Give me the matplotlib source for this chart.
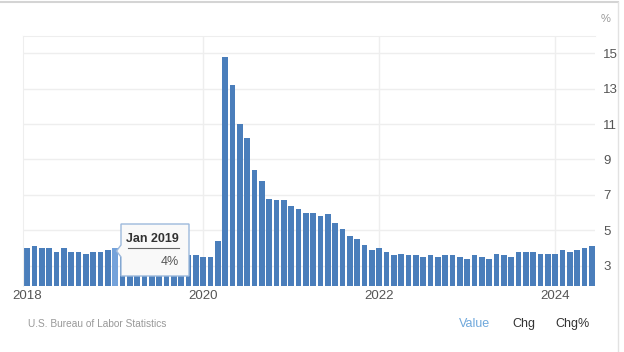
import matplotlib
matplotlib.use('Agg')
import matplotlib.pyplot as plt
from matplotlib.patches import Polygon
from matplotlib.lines import Line2D

plt.rcParams['font.family'] = ['Liberation Sans', 'DejaVu Sans']

# monthly unemployment rate, Jan 2018 - Jun 2024 (%)
rate_2018 = [4.0, 4.1, 4.0, 4.0, 3.8, 4.0, 3.8, 3.8, 3.7, 3.8, 3.8, 3.9]
rate_2019 = [4.0, 3.8, 3.8, 3.7, 3.6, 3.6, 3.7, 3.6, 3.5, 3.6, 3.6, 3.6]
rate_2020 = [3.5, 3.5, 4.4, 14.8, 13.2, 11.0, 10.2, 8.4, 7.8, 6.8, 6.7, 6.7]
rate_2021 = [6.4, 6.2, 6.0, 6.0, 5.8, 5.9, 5.4, 5.1, 4.7, 4.5, 4.2, 3.9]
rate_2022 = [4.0, 3.8, 3.6, 3.7, 3.6, 3.6, 3.5, 3.6, 3.5, 3.6, 3.6, 3.5]
rate_2023 = [3.4, 3.6, 3.5, 3.4, 3.7, 3.6, 3.5, 3.8, 3.8, 3.8, 3.7, 3.7]
rate_2024 = [3.7, 3.9, 3.8, 3.9, 4.0, 4.1]

year_labels = ['2018', '2020', '2022', '2024']
year_ticks = [0, 24, 48, 72]
y_ticks = [3, 5, 7, 9, 11, 13, 15]
highlight = 12  # Jan 2019

rates = rate_2018 + rate_2019 + rate_2020 + rate_2021 + rate_2022 + rate_2023 + rate_2024
months = list(range(len(rates)))

W, H = 624, 352
fig = plt.figure(figsize=(W / 100, H / 100), dpi=100)

def fx(px):
    return px / W

def fy(py):
    return 1 - py / H

ax = fig.add_axes([fx(23), fy(286), fx(595) - fx(23), fy(36) - fy(286)])

colors = ['#4a7ebb'] * len(rates)
colors[highlight] = '#74a2da'
ax.bar(months, rates, width=0.78, color=colors, zorder=2)

ax.set_xlim(-0.57, len(rates) - 0.57)
ax.set_ylim(1.87, 15.96)

ax.set_xticks(year_ticks)
ax.set_xticklabels(year_labels)
ax.set_yticks(y_ticks)
ax.yaxis.tick_right()
ax.tick_params(axis='x', length=0, pad=3, labelsize=9.5, labelcolor='#555555')
ax.tick_params(axis='y', length=0, pad=6, labelsize=9.5, labelcolor='#555555')

ax.grid(True, axis='y', color='#eeeeee', linewidth=1, zorder=0)
for m in year_ticks[1:]:
    ax.axvline(m, color='#eeeeee', linewidth=1, zorder=0)
for s in ['left', 'top']:
    ax.spines[s].set_color('#eeeeee')
for s in ['right', 'bottom']:
    ax.spines[s].set_visible(False)

fig.text(fx(606), fy(19), '%', fontsize=8, color='#999999', ha='center', va='center')

# tooltip
tip = [(121, 224), (189, 224), (189, 276), (121, 276), (121, 257), (116.5, 251), (121, 245)]
fig.patches.append(Polygon([(fx(a), fy(b)) for a, b in tip], closed=True,
                           transform=fig.transFigure, facecolor='#f9f9f9',
                           edgecolor='#9db9dc', linewidth=1, zorder=5))
fig.text(fx(179), fy(239), 'Jan 2019', fontsize=9, fontweight='bold', color='#333333',
         ha='right', va='center', zorder=6)
fig.lines.append(Line2D([fx(128), fx(179)], [fy(248), fy(248)], transform=fig.transFigure,
                        color='#666666', linewidth=0.8, zorder=6))
fig.text(fx(179), fy(262), '4%', fontsize=9, color='#555555', ha='right', va='center', zorder=6)

fig.text(fx(28), fy(324), 'U.S. Bureau of Labor Statistics', fontsize=7.3, color='#999999',
         ha='left', va='center')
fig.text(fx(459), fy(324), 'Value', fontsize=9, color='#6fa8dc', ha='left', va='center')
fig.text(fx(512), fy(324), 'Chg', fontsize=9, color='#333333', ha='left', va='center')
fig.text(fx(555), fy(324), 'Chg%', fontsize=9, color='#333333', ha='left', va='center')

# screenshot border
fig.lines.append(Line2D([0, fx(618)], [fy(2), fy(2)], transform=fig.transFigure,
                        color='#d4d4d4', linewidth=1.5))
fig.lines.append(Line2D([fx(618), fx(618)], [fy(2), 0], transform=fig.transFigure,
                        color='#e2e2e2', linewidth=1))

fig.savefig('out.png', dpi=100)
